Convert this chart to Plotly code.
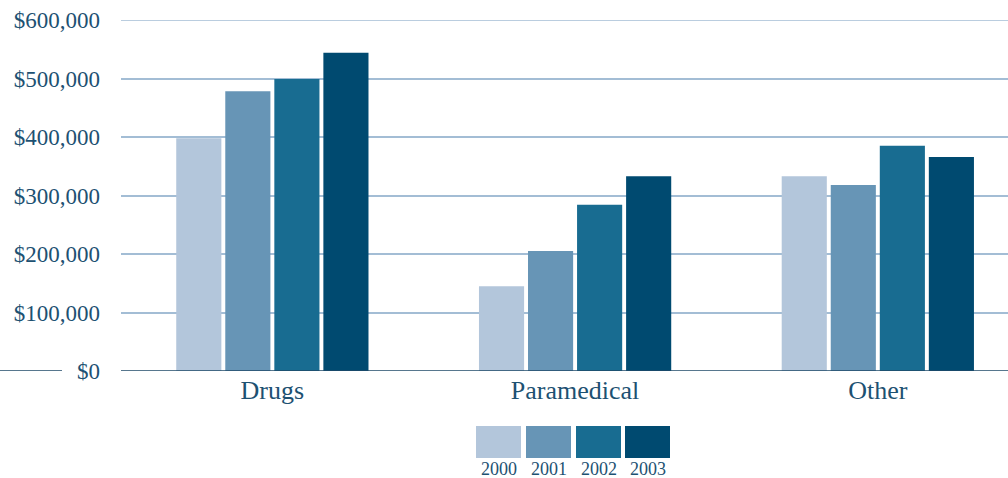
import plotly.graph_objects as go

categories = ["Drugs", "Paramedical", "Other"]
years = ["2000", "2001", "2002", "2003"]
values_2000 = [398000, 145000, 333000]
values_2001 = [478000, 205000, 318000]
values_2002 = [499000, 284000, 385000]
values_2003 = [544000, 333000, 366000]
series = [values_2000, values_2001, values_2002, values_2003]
colors = ["#B3C6DB", "#6795B6", "#186C91", "#004A70"]
y_ticks = [0, 100000, 200000, 300000, 400000, 500000, 600000]
y_tick_labels = ["$0", "$100,000", "$200,000", "$300,000", "$400,000", "$500,000", "$600,000"]

W, H = 1008, 478
ML, MR, MT, MB = 121, 0, 20, 107
PW, PH = W - ML - MR, H - MT - MB
TEXT = "#1D5172"
GRID = "#A3BDD5"
FONT = "Liberation Serif, Times New Roman, serif"

def px_x(p):
    return (p - ML) / PW

def px_y(p):
    return (H - MB - p) / PH

fig = go.Figure()
for yr, vals, c in zip(years, series, colors):
    fig.add_trace(go.Bar(x=categories, y=vals, name=yr, marker=dict(color=c, line=dict(width=0))))

shapes = []
# top gridline (edge of range)
shapes.append(dict(type="line", xref="paper", yref="y", x0=0, x1=1, y0=y_ticks[-1], y1=y_ticks[-1],
                   line=dict(color=GRID, width=1.5), layer="below"))
# baseline pieces
shapes.append(dict(type="line", xref="paper", yref="y", x0=px_x(0), x1=px_x(62), y0=0, y1=0,
                   line=dict(color="#1F4A68", width=1.5)))
shapes.append(dict(type="line", xref="paper", yref="y", x0=0, x1=1, y0=0, y1=0,
                   line=dict(color="#1F4A68", width=1.5)))
annotations = []
box_x = [(476, 521), (526, 571), (576, 621), (625, 670)]
for (a, b), c, yr in zip(box_x, colors, years):
    shapes.append(dict(type="rect", xref="paper", yref="paper", x0=px_x(a), x1=px_x(b),
                       y0=px_y(458), y1=px_y(426), fillcolor=c, line=dict(width=0)))
    annotations.append(dict(xref="paper", yref="paper", x=px_x((a + b) / 2), y=px_y(469),
                            text=yr, showarrow=False, xanchor="center", yanchor="middle",
                            font=dict(family=FONT, size=18, color=TEXT)))

fig.update_layout(
    width=W, height=H,
    margin=dict(l=ML, r=MR, t=MT, b=MB, pad=0),
    paper_bgcolor="white", plot_bgcolor="white",
    barmode="group", bargap=0.352, bargroupgap=0.08,
    showlegend=False,
    shapes=shapes, annotations=annotations,
    xaxis=dict(range=[-0.5, 2.43], showgrid=False, zeroline=False, showline=False,
               ticks="", ticklabelstandoff=1,
               tickfont=dict(family=FONT, size=26, color=TEXT)),
    yaxis=dict(range=[0, 600000], tickvals=y_ticks, ticktext=y_tick_labels,
               showgrid=True, gridcolor=GRID, gridwidth=1.5, zeroline=False,
               showline=False, ticks="", ticklabelstandoff=20,
               tickfont=dict(family=FONT, size=23, color=TEXT)),
)

fig.write_html("out.html")
